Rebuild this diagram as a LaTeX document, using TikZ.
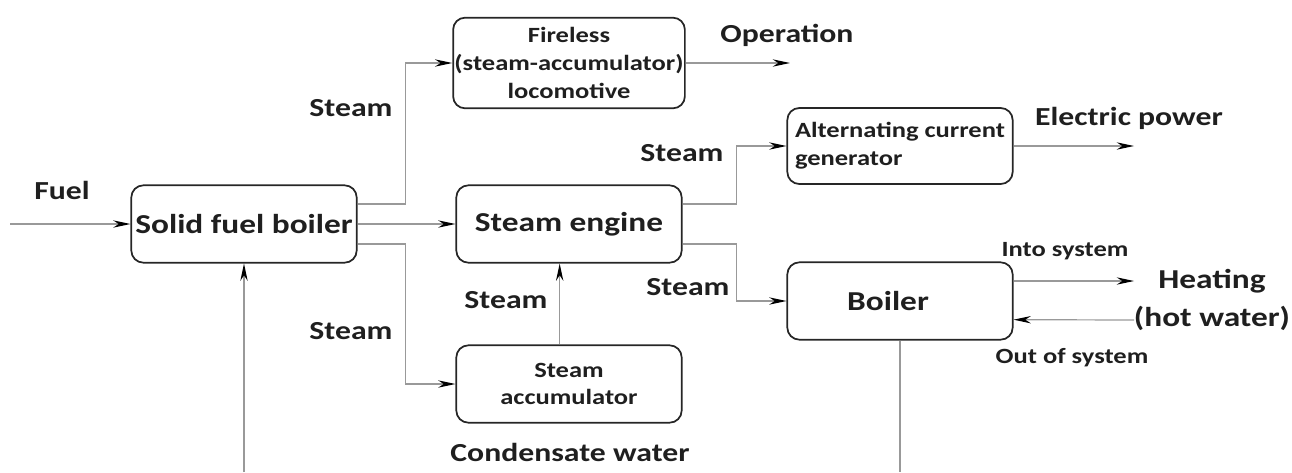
\documentclass[tikz,border=0pt]{standalone}
\usepackage{fontspec}
\setmainfont{Carlito}[FakeStretch=1.22]
\usetikzlibrary{positioning,arrows.meta}

\begin{document}
\begin{tikzpicture}[x=0.75pt, y=-0.75pt,
      every node/.style={text=black!88},
      box/.style={draw=black!85, line width=1.3pt, rounded corners=9pt, align=center, minimum width=169pt, minimum height=58pt, inner sep=1pt, font=\fontsize{20.5}{23}\selectfont\bfseries},
      small/.style={font=\fontsize{16.3}{21}\selectfont\bfseries},
      lab/.style={font=\fontsize{19.5}{23}\selectfont\bfseries},
      arr/.style={draw=black!40, line width=0.9pt, -{Stealth[length=13pt, width=5.5pt, color=black]}},
      ln/.style={draw=black!40, line width=0.9pt}]
    \useasboundingbox (0,0) rectangle (1292,472);
    % boxes
    \node[box, small, minimum height=68pt] (fire) at (569,63) {Fireless\\(steam-accumulator)\\locomotive};
    \node[box] (sfb) at (244,224) {Solid fuel boiler};
    \node[box] (eng) at (569,224) {Steam engine};
    \node[box, small, align=left, minimum height=57pt] (gen) at (900,146) {Alternating current\\generator};
    \node[box, small, font=\fontsize{16.3}{20}\selectfont\bfseries] (acc) at (569,384) {Steam\\accumulator};
    \node[box] (boil) at (900,301) {Boiler\hspace{18pt}};
    % free ends
    \coordinate (fuelin) at (10,224);
    \coordinate (opout) at (790,63);
    \coordinate (elout) at (1134,146);
    \coordinate (hin) at (1134,281);
    \coordinate (hout) at (1134,320);
    \coordinate (cbot) at (900,472);
    \coordinate (rbot) at (244,472);
    % labels
    \node[lab] (fuel) at (62,190) {Fuel};
    \node[lab] (st1) at (351,108) {Steam};
    \node[lab] (st2) at (351,331) {Steam};
    \node[lab] (st3) at (506,300) {Steam};
    \node[lab] (st4) at (682,153) {Steam};
    \node[lab] (st5) at (688,287) {Steam};
    \node[lab] (op) at (787,35) {Operation};
    \node[lab] (el) at (1129,118) {Electric power};
    \node[small] (into) at (1065,251) {Into system};
    \node[small] (outof) at (1072,358) {Out of system};
    \node[lab, align=center, font=\fontsize{20.5}{29}\selectfont\bfseries] (heat) at (1212,300) {Heating\\(hot water)};
    \node[lab] (cond) at (570,452) {Condensate water};
    % connectors
    \draw[arr] (fuelin) -- (sfb.west);
    \draw[arr] (sfb.east) -- (eng.west);
    \draw[arr] ([yshift=15pt]sfb.east) -- ++(48,0) |- (fire.west);
    \draw[arr] ([yshift=-15pt]sfb.east) -- ++(48,0) |- (acc.west);
    \draw[arr] ([xshift=-7pt]acc.north) -- ([xshift=-7pt]eng.south);
    \draw[arr] (fire.east) -- (opout);
    \draw[arr] ([yshift=15pt]eng.east) -- ++(54,0) |- (gen.west);
    \draw[arr] ([yshift=-15pt]eng.east) -- ++(54,0) |- (boil.west);
    \draw[arr] (gen.east) -- (elout);
    \draw[arr] ([yshift=15pt]boil.east) -- (hin);
    \draw[arr] (hout) -- ([yshift=-14pt]boil.east);
    \draw[ln] (boil.south) -- (cbot);
    \draw[arr] (rbot) -- (sfb.south);
  \end{tikzpicture}
\end{document}
